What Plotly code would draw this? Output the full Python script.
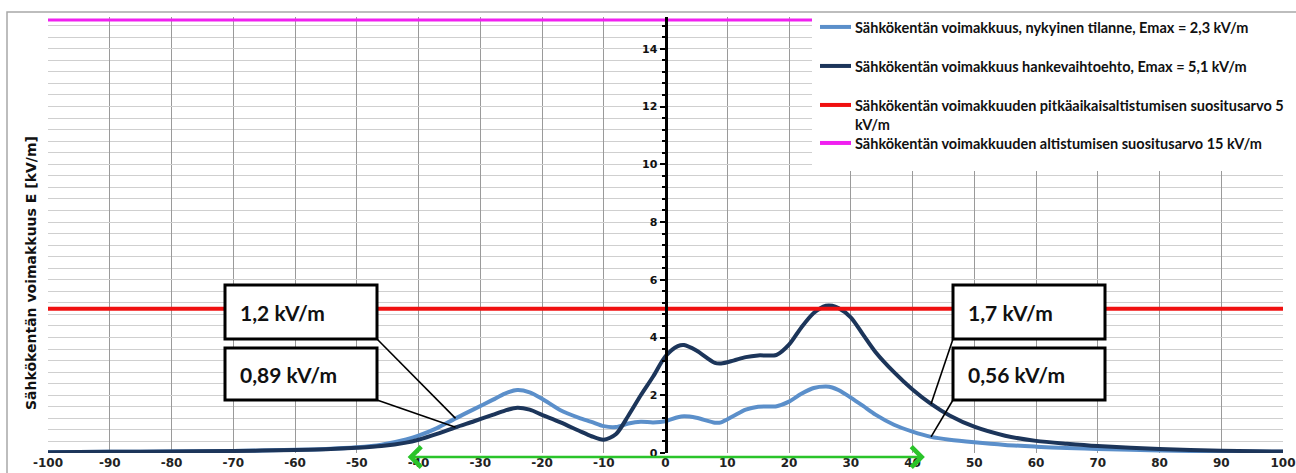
import plotly.graph_objects as go

# Electric field strength profile across the power line corridor
distance_m = [-100, -90, -80, -70, -60, -55, -50, -46, -42, -40, -37, -34, -31, -28, -26,
              -24, -22, -20, -17, -14, -12, -10, -8, -6, -4, -2, 0, 2, 3, 5, 8, 9, 11,
              13, 15, 18, 20, 22, 24, 26, 27, 28, 30, 32, 34, 37, 40, 43, 46, 50, 55,
              60, 65, 70, 80, 90, 100]

# current situation (kV/m)
e_current = [0.03, 0.04, 0.05, 0.07, 0.11, 0.14, 0.2, 0.29, 0.47, 0.6, 0.86, 1.2, 1.52,
             1.84, 2.06, 2.18, 2.1, 1.88, 1.48, 1.22, 1.08, 0.93, 0.9, 1.02, 1.08, 1.06,
             1.1, 1.24, 1.27, 1.22, 1.05, 1.06, 1.28, 1.5, 1.6, 1.62, 1.78, 2.05, 2.25,
             2.3, 2.27, 2.18, 1.92, 1.63, 1.33, 0.98, 0.74, 0.56, 0.46, 0.37, 0.28,
             0.22, 0.17, 0.14, 0.09, 0.06, 0.04]

# project alternative (kV/m)
e_project = [0.03, 0.04, 0.05, 0.07, 0.1, 0.13, 0.18, 0.24, 0.36, 0.46, 0.66, 0.89, 1.1,
             1.32, 1.47, 1.57, 1.5, 1.32, 1.06, 0.77, 0.58, 0.46, 0.66, 1.3, 2.0, 2.65,
             3.35, 3.7, 3.74, 3.55, 3.12, 3.1, 3.2, 3.32, 3.38, 3.4, 3.75, 4.35, 4.85,
             5.1, 5.1, 5.02, 4.7, 4.1, 3.5, 2.8, 2.2, 1.7, 1.3, 0.91, 0.6, 0.42, 0.32,
             0.24, 0.14, 0.08, 0.05]

limit_long_term = 5
limit_exposure = 15

legend_labels = [
    "Sähkökentän voimakkuus, nykyinen tilanne, Emax = 2,3 kV/m",
    "Sähkökentän voimakkuus hankevaihtoehto, Emax = 5,1 kV/m",
    "Sähkökentän voimakkuuden pitkäaikaisaltistumisen suositusarvo 5",
    "Sähkökentän voimakkuuden altistumisen suositusarvo 15 kV/m",
]
legend_wrap = "kV/m"

# value callouts at the edges of the corridor: (distance, series)
callout_at = [(-34, "current"), (-34, "project"), (43, "project"), (43, "current")]

x_tick_vals = list(range(-100, 101, 10))
x_tick_labels = [str(v) for v in x_tick_vals]
corridor = [-42, 42]

C_LIGHT = "#5b8fca"
C_DARK = "#1c355a"
C_RED = "#f01010"
C_MAG = "#f020f0"
C_GREEN = "#2ac42a"

W, H = 1296, 473
L, R, B = 48, 13, 20
Y_MAX = 15.1
PX_PER_UNIT = 28.87
plot_h = Y_MAX * PX_PER_UNIT
T = H - B - plot_h
plot_w = W - L - R


def px_x(px):
    return (px - L) / plot_w


def px_y(py):
    return (H - B - py) / plot_h


def dx(px):
    return -100 + (px - L) / plot_w * 200


def dy(py):
    return (H - B - py) / PX_PER_UNIT


fig = go.Figure()
fig.add_trace(go.Scatter(x=distance_m, y=e_current, mode="lines",
                         line=dict(color=C_LIGHT, width=4, shape="spline", smoothing=0.8),
                         showlegend=False, hoverinfo="skip"))
fig.add_trace(go.Scatter(x=distance_m, y=e_project, mode="lines",
                         line=dict(color=C_DARK, width=4, shape="spline", smoothing=0.8),
                         showlegend=False, hoverinfo="skip"))
fig.add_trace(go.Scatter(x=[-100, 100], y=[limit_long_term] * 2, mode="lines",
                         line=dict(color=C_RED, width=4), showlegend=False, hoverinfo="skip"))
fig.add_trace(go.Scatter(x=[-100, 100], y=[limit_exposure] * 2, mode="lines",
                         line=dict(color=C_MAG, width=3), showlegend=False, hoverinfo="skip"))

shapes = []
annotations = []

# outer chart frame
shapes.append(dict(type="rect", xref="paper", yref="paper",
                   x0=px_x(7), x1=px_x(1310), y0=px_y(490), y1=px_y(12),
                   line=dict(color="#a8a8a8", width=1.5), fillcolor="rgba(0,0,0,0)",
                   layer="above"))

# legend panel
shapes.append(dict(type="rect", xref="paper", yref="paper",
                   x0=px_x(812), x1=px_x(1295), y0=px_y(171), y1=px_y(13),
                   line=dict(width=0), fillcolor="white", layer="above"))
legend_colors = [C_LIGHT, C_DARK, C_RED, C_MAG]
legend_rows = [27, 66, 105, 143]
legend_font = dict(family="Lato", size=14.5, color="#111", weight="bold")
for lab, col, row in zip(legend_labels, legend_colors, legend_rows):
    shapes.append(dict(type="line", xref="paper", yref="paper",
                       x0=px_x(820), x1=px_x(851), y0=px_y(row), y1=px_y(row),
                       line=dict(color=col, width=4), layer="above"))
    annotations.append(dict(xref="paper", yref="paper", x=px_x(853), y=px_y(row + 1),
                            text=lab, showarrow=False, xanchor="left", yanchor="middle",
                            font=legend_font))
annotations.append(dict(xref="paper", yref="paper", x=px_x(853), y=px_y(125),
                        text=legend_wrap, showarrow=False, xanchor="left", yanchor="middle",
                        font=legend_font))

# value callouts with leader lines
series = {"current": e_current, "project": e_project}
box_px = [(225, 377, 285, 339), (225, 377, 348, 400),
          (953, 1105, 285, 339), (953, 1105, 348, 400)]
for (xv, key), (bx0, bx1, by0, by1) in zip(callout_at, box_px):
    val = series[key][distance_m.index(xv)]
    label = f"{val:g}".replace(".", ",") + " kV/m"
    cx = bx1 if xv < 0 else bx0
    shapes.append(dict(type="line", xref="x", yref="y", x0=dx(cx), y0=dy(by1),
                       x1=xv, y1=val, line=dict(color="black", width=1.6), layer="above"))
    shapes.append(dict(type="rect", xref="x", yref="y", x0=dx(bx0), x1=dx(bx1),
                       y0=dy(by1), y1=dy(by0), line=dict(color="black", width=3),
                       fillcolor="white", layer="above"))
    annotations.append(dict(xref="x", yref="y", x=dx(bx0 + 13), y=dy((by0 + by1) / 2 + 1),
                            text=label, showarrow=False, xanchor="left", yanchor="middle",
                            font=dict(family="Lato", size=21, color="#111", weight="bold")))

# corridor width arrow (just below the axis baseline)
annotations.append(dict(xref="x", yref="paper", axref="x", ayref="pixel",
                        x=corridor[1], y=px_y(457), ax=corridor[0], ay=0,
                        text="", showarrow=True, arrowside="end+start", arrowhead=4,
                        arrowsize=1.6, arrowwidth=2.5, arrowcolor=C_GREEN))

# y axis title
annotations.append(dict(xref="paper", yref="paper", x=px_x(31), y=px_y(273),
                        text="Sähkökentän voimakkuus E [kV/m]", showarrow=False,
                        textangle=-90, xanchor="center", yanchor="middle",
                        font=dict(family="DejaVu Sans", size=14, color="#111", weight="bold")))

fig.update_layout(
    width=W, height=H,
    margin=dict(l=L, r=R, t=T, b=B, pad=0, autoexpand=False),
    paper_bgcolor="white", plot_bgcolor="white",
    shapes=shapes, annotations=annotations,
    showlegend=False,
    xaxis=dict(range=[-100, 100], tickmode="array", tickvals=x_tick_vals,
               ticktext=x_tick_labels, showgrid=True, gridcolor="#9a9a9a", gridwidth=1,
               zeroline=False, showline=False, ticks="", ticklabelstandoff=1,
               automargin=False, ticklabeloverflow="allow",
               tickfont=dict(family="DejaVu Sans", size=12, color="#222", weight="bold")),
    yaxis=dict(range=[0, Y_MAX], anchor="free", position=0.5, tickmode="linear",
               tick0=0, dtick=2, showgrid=True, gridcolor="#cfcfcf", gridwidth=1,
               zeroline=False, showline=True, linecolor="black", linewidth=3,
               ticks="outside", ticklen=5, tickwidth=2, tickcolor="black", automargin=False,
               tickfont=dict(family="DejaVu Sans", size=11, color="#111", weight="bold"),
               minor=dict(dtick=0.4, tick0=0, showgrid=True, gridcolor="#cfcfcf",
                          ticks="outside", ticklen=3, tickwidth=2, tickcolor="black")),
)

fig.write_html("out.html")
